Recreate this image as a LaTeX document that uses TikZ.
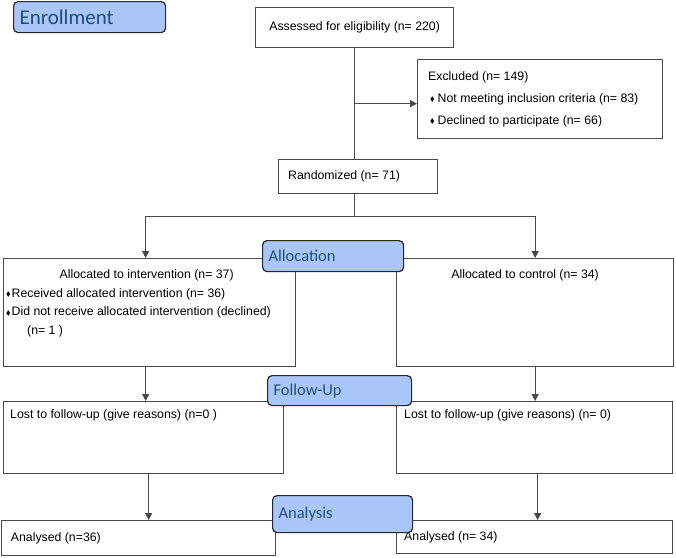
\documentclass[tikz,border=0pt]{standalone}
\usepackage{amssymb}
\usepackage{fontspec}
\setmainfont{Liberation Sans}
\newfontfamily\phasefont{Carlito}
\usetikzlibrary{positioning,calc,arrows.meta}

\definecolor{linecol}{RGB}{72,72,72}
\definecolor{phasefill}{RGB}{170,198,248}
\definecolor{phasetext}{RGB}{34,78,118}

\newcommand{\bul}{\raisebox{0.8pt}{\scalebox{0.55}{$\blacklozenge$}}}

\tikzset{
  box/.style={draw=linecol, line width=1.3pt, fill=white, anchor=north west, inner sep=0pt},
  txt/.style={inner sep=0pt, font=\fontsize{12.3}{14}\selectfont},
  phase/.style={draw=black!85, line width=1.2pt, rounded corners=4.5pt, fill=phasefill,
    text=phasetext, anchor=north west, inner xsep=6pt, align=left,
    font=\phasefont\fontsize{16.5}{16.5}\selectfont},
  arr/.style={draw=linecol, line width=1.3pt, -{Triangle[length=7pt,width=7pt]}},
  link/.style={draw=linecol, line width=1.3pt}
}

\begin{document}
\begin{tikzpicture}[x=1pt,y=-1pt]
    \useasboundingbox (0,0) rectangle (676,557);

    % Boxes
    \node[box, minimum width=198pt, minimum height=40pt] (assess) at (255,7) {};
    \node[box, minimum width=245pt, minimum height=79pt] (excl) at (417,59) {};
    \node[box, minimum width=159pt, minimum height=34pt] (rand) at (278,159) {};
    \node[box, minimum width=292pt, minimum height=108pt] (intv) at (3,258) {};
    \node[box, minimum width=277pt, minimum height=108pt] (ctrl) at (396,258) {};
    \node[box, minimum width=280pt, minimum height=72pt] (lostL) at (3,401) {};
    \node[box, minimum width=276pt, minimum height=72pt] (lostR) at (396,401) {};
    \node[box, minimum width=274pt, minimum height=35pt] (anL) at (0.7,520) {};
    \node[box, minimum width=276pt, minimum height=33pt] (anR) at (396,520) {};

    % Box texts
    \node[txt] (assesstxt) at (assess.center) {Assessed for eligibility (n= 220)};
    \node[txt, anchor=west, align=left, font=\fontsize{12.3}{22}\selectfont] (excltxt)
        at ([xshift=11pt]excl.west)
        {Excluded (n= 149)\\ \hspace*{2pt}\bul\hspace{3pt}Not meeting inclusion criteria (n= 83)\\
         \hspace*{2pt}\bul\hspace{3pt}Declined to participate (n= 66)};
    \node[txt, anchor=west] (randtxt) at ([xshift=10pt]rand.west) {Randomized (n= 71)};
    \node[txt] (intvhead) at ([xshift=-3pt,yshift=-17pt]intv.north) {Allocated to intervention (n= 37)};
    \node[txt, anchor=west, align=left, font=\fontsize{12.3}{18.5}\selectfont] (intvtxt)
        at ([xshift=3pt]intv.west)
        {\bul\hspace{1pt}Received allocated intervention (n= 36)\\
         \bul\hspace{1pt}Did not receive allocated intervention (declined)\\
         \hspace*{21pt}(n= 1 )};
    \node[txt] (ctrltxt) at ([xshift=-10pt,yshift=-17pt]ctrl.north) {Allocated to control (n= 34)};
    \node[txt, anchor=west] (lostLtxt) at ([xshift=7pt,yshift=-14pt]lostL.north west) {Lost to follow-up (give reasons) (n=0 )};
    \node[txt, anchor=west] (lostRtxt) at ([xshift=8pt,yshift=-14pt]lostR.north west) {Lost to follow-up (give reasons) (n= 0)};
    \node[txt, anchor=west] (anLtxt) at ([xshift=10pt]anL.west) {Analysed (n=36)};
    \node[txt, anchor=west] (anRtxt) at ([xshift=8pt]anR.west) {Analysed (n= 34)};

    % Connectors
    \coordinate (split) at ($(assess.south)!0.5!(assess.south |- rand.north)$);
    \coordinate (fork) at ($(assess.south |- rand.south)+(0,22)$);
    \draw[link] (assess.south) -- (assess.south |- rand.north);
    \draw[arr] (split) -- (split -| excl.west);
    \draw[link] (assess.south |- rand.south) -- (fork);
    \draw[link] ([xshift=-4pt]intv.north |- fork) -- (ctrl.north |- fork);
    \draw[arr] ([xshift=-4pt]intv.north |- fork) -- ([xshift=-4pt]intv.north);
    \draw[arr] (ctrl.north |- fork) -- (ctrl.north);
    \draw[arr] ([xshift=-4pt]intv.south) -- ([xshift=-4pt]intv.south |- lostL.north);
    \draw[arr] (ctrl.south) -- (ctrl.south |- lostR.north);
    \draw[arr] ([xshift=5pt]lostL.south) -- ([xshift=5pt]lostL.south |- anL.north);
    \draw[arr] ([xshift=3pt]lostR.south) -- ([xshift=3pt]lostR.south |- anR.north);

    % Phase labels
    \node[phase, text width=140pt, minimum height=31pt] (enrol) at (13,1) {\fontsize{21}{21}\selectfont Enrollment};
    \node[phase, text width=129pt, minimum height=31pt] (alloc) at (262,240) {Allocation};
    \node[phase, text width=132pt, minimum height=30pt] (follow) at (267,375) {Follow-Up};
    \node[phase, text width=128pt, minimum height=37pt] (analysis) at (272,495) {Analysis};
\end{tikzpicture}
\end{document}
